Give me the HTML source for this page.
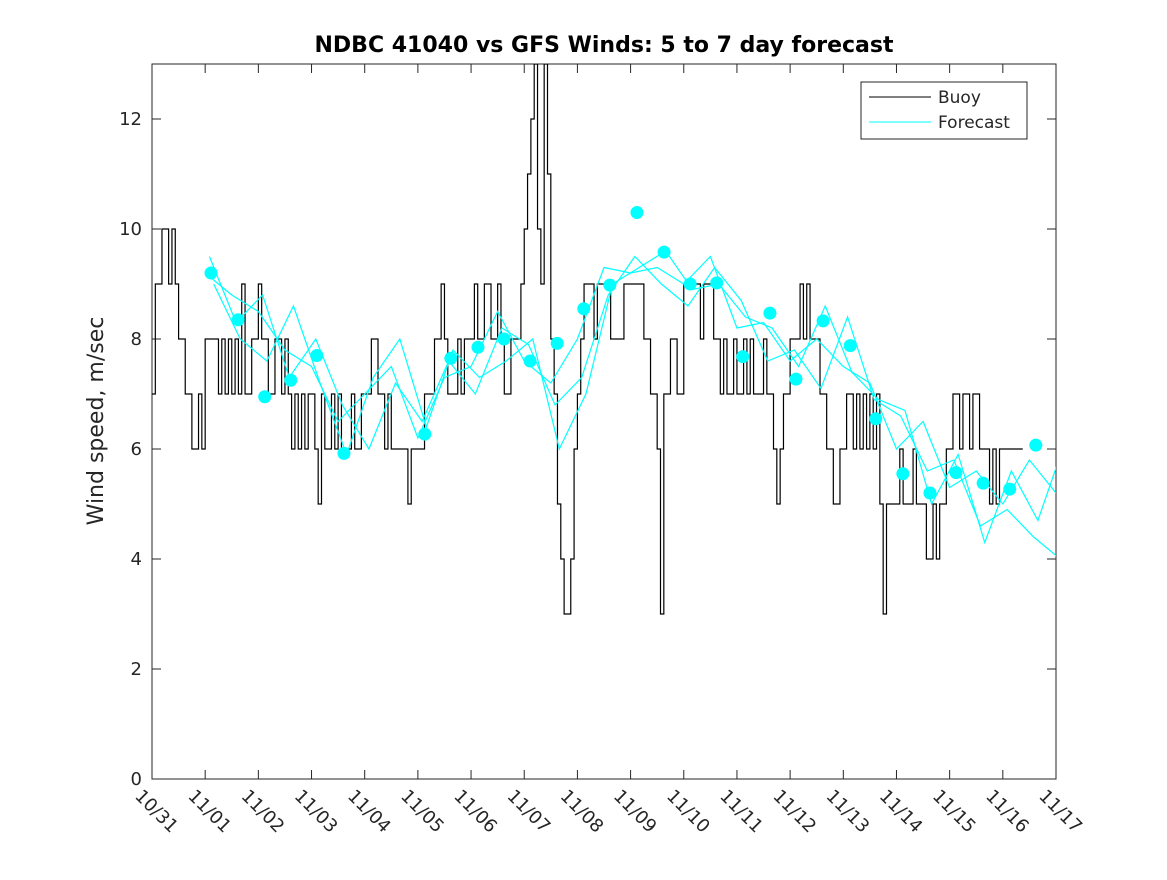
<!DOCTYPE html>
<html><head><meta charset="utf-8"><style>
body{margin:0;background:#fff}
svg text{font-family:"DejaVu Sans","Liberation Sans",sans-serif;fill:#262626}
</style></head><body>
<svg id="chart" width="1167" height="875"></svg>
<script>
const dateLabels=["10/31","11/01","11/02","11/03","11/04","11/05","11/06","11/07","11/08","11/09","11/10","11/11","11/12","11/13","11/14","11/15","11/16","11/17"];
const yTicks=[0,2,4,6,8,10,12];
const buoyStart=0, buoyStep=0.0625;
const buoyValues=[7,9,9,10,10,9,10,9, 8,8,7,7,6,6,7,6, 8,8,8,8,7,8,7,8, 7,8,7,9,7,7,8,8, 9,8,8,7,7,8,8,7, 8,7,6,7,6,7,6,7, 7,6,5,7,6,6,7,6, 7,6,6,6,7,6,6,7, 7,7,8,8,7,7,6,7, 6,6,6,6,6,5,6,6, 6,6,7,7,7,8,8,9, 8,7,7,7,8,7,8,8, 8,9,8,8,9,9,8,8, 9,8,7,7,8,8,8,9, 10,11,12,13,10,9,13,11, 8,7,5,4,3,3,4,6, 7,8,9,9,9,8,9,9, 9,9,8,8,8,8,9,9, 9,9,9,9,8,8,7,7, 6,3,7,7,8,8,7,7, 9,9,9,9,9,8,9,9, 9,8,8,7,8,7,7,8, 7,7,8,7,8,7,7,7, 8,7,7,6,5,6,7,7, 8,8,8,9,8,9,8,8, 8,7,7,6,6,5,5,6, 6,7,7,6,7,6,7,6, 7,6,7,5,3,5,5,5, 5,6,5,5,5,6,5,5, 5,4,4,5,4,5,5,6, 6,7,7,6,7,7,6,7, 7,6,6,6,5,6,5,6, 6,6,6,6,6,6];
const fcStart=1, fcStep=0.5;
const fcA=[9.2,8.8,8.5,7.8,7.5,6.5,7.0,7.5,6.2,7.3,7.5,8.5,7.6,7.2,8.0,9.3,9.2,9.3,9.0,9.5,8.2,8.3,7.6,8.0,7.5,7.2,6.0,6.5,5.3,5.6,5.0,5.8,5.2];
const fcB=[9.5,8.3,8.8,7.3,8.0,6.8,6.0,7.2,6.5,7.6,7.0,8.2,7.9,6.8,7.3,8.8,9.5,9.0,8.6,9.3,8.7,7.6,7.8,7.1,8.4,6.9,6.6,5.6,5.8,4.6,4.9,4.4,4.0];
const fcC=[9.0,8.0,7.6,8.6,7.2,5.9,7.3,8.0,6.4,7.8,7.3,7.6,8.0,6.0,7.0,9.0,9.3,9.6,8.9,9.0,8.4,8.2,7.5,8.6,7.4,6.9,6.7,5.0,5.9,4.3,5.6,4.7,6.1];
const dotDays=[1.11,1.62,2.12,2.61,3.10,3.61,5.13,5.62,6.13,6.62,7.11,7.62,8.12,8.61,9.12,9.63,10.12,10.62,11.11,11.62,12.11,12.62,13.13,13.61,14.12,14.63,15.12,15.63,16.13,16.62];
const dotValues=[9.2,8.35,6.95,7.25,7.7,5.92,6.27,7.65,7.85,8.0,7.6,7.92,8.55,8.98,10.3,9.58,9.0,9.02,7.68,8.47,7.27,8.33,7.88,6.55,5.55,5.2,5.57,5.38,5.27,6.07];

const L=152,R=1056,T=64,B=779;
const X=d=>L+(R-L)*d/17, Y=v=>B-(B-T)*v/13;
const svg=document.getElementById('chart');const NS='http://www.w3.org/2000/svg';
function mk(tag,attrs,parent){const e=document.createElementNS(NS,tag);for(const k in attrs)e.setAttribute(k,attrs[k]);(parent||svg).appendChild(e);return e;}
const axes=mk('rect',{x:L,y:T,width:R-L,height:B-T,fill:'#fff',stroke:'#262626','stroke-width':1});


const clip=mk('clipPath',{id:'cp'});mk('rect',{x:L,y:T,width:R-L,height:B-T},clip);
yTicks.forEach(v=>{
 mk('line',{x1:L,x2:L+9,y1:Y(v),y2:Y(v),stroke:'#262626'});
 mk('line',{x1:R,x2:R-9,y1:Y(v),y2:Y(v),stroke:'#262626'});
 const t=mk('text',{x:L-10,y:Y(v)+6,'text-anchor':'end','font-size':18});t.textContent=v;
 
 
});
dateLabels.forEach((s,i)=>{
 const x=X(i);
 mk('line',{x1:x,x2:x,y1:B,y2:B-9,stroke:'#262626'});
 mk('line',{x1:x,x2:x,y1:T,y2:T+9,stroke:'#262626'});
 const t=mk('text',{x:x-18,y:B+18,'font-size':18,transform:`rotate(45 ${x-18} ${B+18})`});t.textContent=s;
 
 
});
const g=mk('g',{'clip-path':'url(#cp)'});
function poly(days,vals,color,w,name){
 const p=mk('polyline',{points:days.map((d,i)=>X(d)+','+Y(vals[i])).join(' '),fill:'none',stroke:color,'stroke-width':w},g);
 
 
}
let bp=[];buoyValues.forEach((v,i)=>{const d0=buoyStart+i*buoyStep,d1=d0+buoyStep;bp.push(X(d0)+','+Y(v),X(d1)+','+Y(v));});
const bl=mk('polyline',{points:bp.join(' '),fill:'none',stroke:'#000','stroke-width':1.2},g);


[fcA,fcB,fcC].forEach((s,k)=>poly(s.map((_,i)=>fcStart+i*fcStep+k*0.08),s,'#00ffff',1.2,'forecast-line'));
dotDays.forEach((d,i)=>{
 const c=mk('circle',{cx:X(d),cy:Y(dotValues[i]),r:6.5,fill:'#00ffff'},g);
 
 
});
const title=mk('text',{x:604,y:52,'text-anchor':'middle','font-size':22,'font-weight':'bold'});title.textContent='NDBC 41040 vs GFS Winds: 5 to 7 day forecast';
title.style.fill='#000';


const yl=mk('text',{x:103,y:421,'text-anchor':'middle','font-size':22,transform:'rotate(-90 103 421)'});yl.textContent='Wind speed, m/sec';


const lg=mk('g',{});


mk('rect',{x:861,y:82,width:166,height:57,fill:'#fff',stroke:'#262626'},lg);
mk('line',{x1:869,x2:931,y1:97,y2:97,stroke:'#000'},lg);
mk('line',{x1:869,x2:931,y1:122,y2:122,stroke:'#00ffff'},lg);
const t1=mk('text',{x:938,y:103,'font-size':17},lg);t1.textContent='Buoy';


const t2=mk('text',{x:938,y:128,'font-size':17},lg);t2.textContent='Forecast';


</script>
</body></html>
